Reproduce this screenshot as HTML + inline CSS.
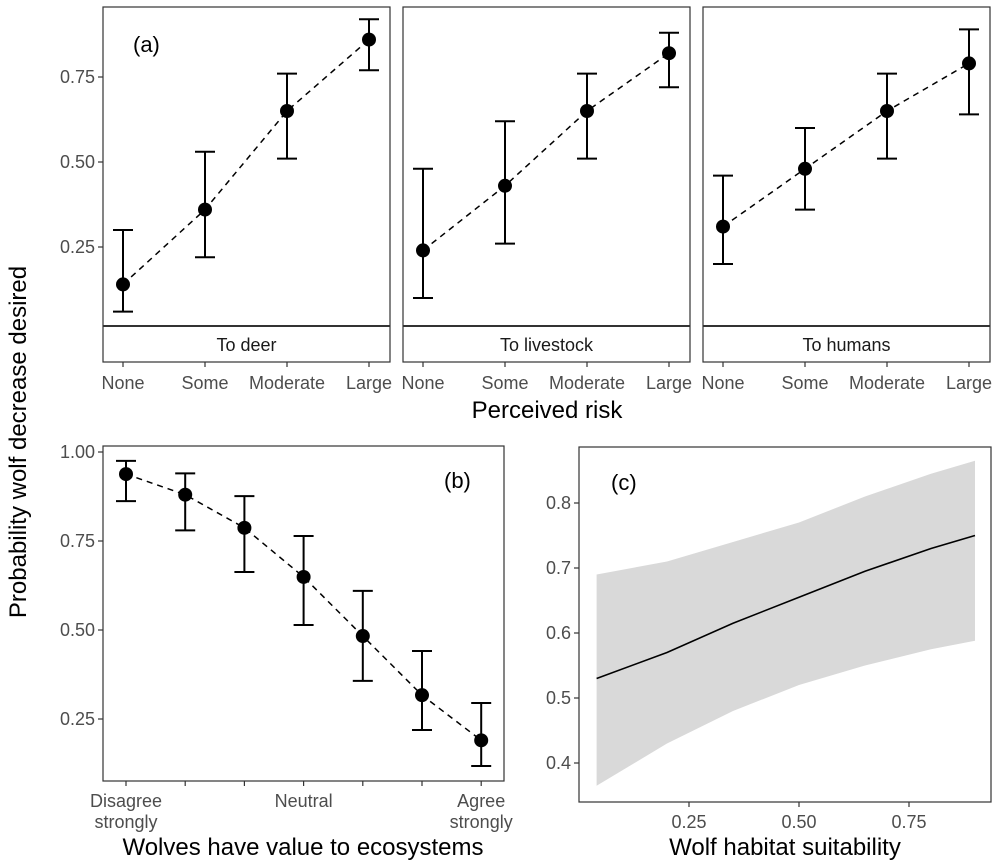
<!DOCTYPE html>
<html><head><meta charset="utf-8">
<style>
body{margin:0;background:#fff;}
svg{display:block;font-family:"Liberation Sans",sans-serif;}
.tk{fill:#4d4d4d;font-size:18px;}
.ttl{fill:#000;font-size:24px;}
</style></head>
<body>
<svg id="fig" width="1000" height="867" viewBox="0 0 1000 867"></svg>
<script>
// ---- Panel (a) data ----
const riskCats = ["None","Some","Moderate","Large"];
const facets = ["To deer","To livestock","To humans"];
const deerMean = [0.14,0.36,0.65,0.86];
const deerLo = [0.06,0.22,0.51,0.77];
const deerHi = [0.30,0.53,0.76,0.92];
const liveMean = [0.24,0.43,0.65,0.82];
const liveLo = [0.10,0.26,0.51,0.72];
const liveHi = [0.48,0.62,0.76,0.88];
const humMean = [0.31,0.48,0.65,0.79];
const humLo = [0.20,0.36,0.51,0.64];
const humHi = [0.46,0.60,0.76,0.89];
const aTicks = [0.25,0.50,0.75];
// ---- Panel (b) data ----
const valueCats = ["Disagree\nstrongly","","","Neutral","","","Agree\nstrongly"];
const valMean = [0.938,0.88,0.787,0.649,0.483,0.317,0.19];
const valLo = [0.862,0.78,0.663,0.514,0.357,0.219,0.118];
const valHi = [0.975,0.94,0.876,0.764,0.61,0.441,0.295];
const bTicks = [1.00,0.75,0.50,0.25];
// ---- Panel (c) data ----
const habX = [0.04,0.2,0.35,0.5,0.65,0.8,0.9];
const habFit = [0.53,0.57,0.615,0.655,0.695,0.73,0.75];
const habLo = [0.365,0.43,0.48,0.52,0.55,0.575,0.588];
const habHi = [0.69,0.71,0.74,0.77,0.81,0.845,0.865];
const cYTicks = [0.4,0.5,0.6,0.7,0.8];
const cXTicks = [0.25,0.50,0.75];

const NS="http://www.w3.org/2000/svg";
const svg=document.getElementById('fig');
function mk(tag,attrs,parent,text){const e=document.createElementNS(NS,tag);for(const k in attrs)e.setAttribute(k,attrs[k]);if(text!==undefined)e.textContent=text;(parent||svg).appendChild(e);return e;}
function fmt2(v){return v.toFixed(2);}

// Panel (a)
const ayA = v => 247-(v-0.25)*340;
const panelLeft=[103,403,703], PW=287;
const series=[[deerMean,deerLo,deerHi],[liveMean,liveLo,liveHi],[humMean,humLo,humHi]];
facets.forEach((f,fi)=>{
  const L=panelLeft[fi];
  const g=mk('g',{});
  
  
  const ax=i=>L+20+i*82;
  const [m,lo,hi]=series[fi];
  let d=m.map((v,i)=>(i?'L':'M')+ax(i)+','+ayA(v)).join(' ');
  const ln=mk('path',{d:d,fill:'none',stroke:'#000','stroke-width':1.5,'stroke-dasharray':'6,5'},g);
  
  
  m.forEach((v,i)=>{
    const x=ax(i);
    const eb=mk('path',{d:`M${x-10},${ayA(hi[i])}H${x+10}M${x},${ayA(hi[i])}V${ayA(lo[i])}M${x-10},${ayA(lo[i])}H${x+10}`,stroke:'#000','stroke-width':2,fill:'none'},g);
    
    
    const pt=mk('circle',{cx:x,cy:ayA(v),r:7,fill:'#000'},g);
    
    
    mk('line',{x1:x,x2:x,y1:362,y2:367,stroke:'#333','stroke-width':1.2},g);
    const tl=mk('text',{x:x,y:389,'text-anchor':'middle',class:'tk'},g,riskCats[i]);
    
    
  });
  mk('rect',{x:L,y:7,width:PW,height:355,fill:'none',stroke:'#333','stroke-width':1.2},g);
  mk('line',{x1:L,x2:L+PW,y1:326,y2:326,stroke:'#333','stroke-width':2},g);
  const st=mk('text',{x:L+PW/2,y:351,'text-anchor':'middle',fill:'#1a1a1a','font-size':18},g,f);
  
  
});
aTicks.forEach(t=>{
  mk('line',{x1:98,x2:103,y1:ayA(t),y2:ayA(t),stroke:'#333','stroke-width':1.2});
  const tx=mk('text',{x:95,y:ayA(t)+6,'text-anchor':'end',class:'tk'},svg,fmt2(t));
  
  
});
const la=mk('text',{x:133,y:52,'font-size':22},svg,'(a)');


const pr=mk('text',{x:547,y:418,'text-anchor':'middle',class:'ttl'},svg,'Perceived risk');



// Panel (b)
const byB = v => 719-(v-0.25)*356;
const bx = i => 126+i*59.2;
mk('rect',{x:103,y:446,width:401,height:335,fill:'none',stroke:'#333','stroke-width':1.2});
const bl=mk('path',{d:valMean.map((v,i)=>(i?'L':'M')+bx(i)+','+byB(v)).join(' '),fill:'none',stroke:'#000','stroke-width':1.5,'stroke-dasharray':'6,5'});


valMean.forEach((v,i)=>{
  const x=bx(i);
  const eb=mk('path',{d:`M${x-10},${byB(valHi[i])}H${x+10}M${x},${byB(valHi[i])}V${byB(valLo[i])}M${x-10},${byB(valLo[i])}H${x+10}`,stroke:'#000','stroke-width':2,fill:'none'});
  
  
  const pt=mk('circle',{cx:x,cy:byB(v),r:7,fill:'#000'});
  
  
  mk('line',{x1:x,x2:x,y1:781,y2:786,stroke:'#333','stroke-width':1.2});
  const lines=valueCats[i].split('\n');
  lines.forEach((s,k)=>{ if(!s)return;
    const tl=mk('text',{x:x,y:807+k*21,'text-anchor':'middle',class:'tk'},svg,s);
    
    
  });
});
bTicks.forEach(t=>{
  mk('line',{x1:98,x2:103,y1:byB(t),y2:byB(t),stroke:'#333','stroke-width':1.2});
  const tx=mk('text',{x:95,y:byB(t)+6,'text-anchor':'end',class:'tk'},svg,fmt2(t));
  
  
});
const lb=mk('text',{x:444,y:488,'font-size':22},svg,'(b)');


const bt=mk('text',{x:303,y:855,'text-anchor':'middle',class:'ttl'},svg,'Wolves have value to ecosystems');



// Panel (c)
const cx = v => 579+v*440;
const cy = v => 698-(v-0.5)*650;
let band=habX.map((x,i)=>(i?'L':'M')+cx(x)+','+cy(habHi[i])).join(' ');
for(let i=habX.length-1;i>=0;i--) band+=' L'+cx(habX[i])+','+cy(habLo[i]);
const bd=mk('path',{d:band+' Z',fill:'#d9d9d9'});


const fl=mk('path',{d:habX.map((x,i)=>(i?'L':'M')+cx(x)+','+cy(habFit[i])).join(' '),fill:'none',stroke:'#000','stroke-width':1.6});


mk('rect',{x:579,y:447,width:412,height:355,fill:'none',stroke:'#333','stroke-width':1.2});
cYTicks.forEach(t=>{
  mk('line',{x1:574,x2:579,y1:cy(t),y2:cy(t),stroke:'#333','stroke-width':1.2});
  const tx=mk('text',{x:571,y:cy(t)+6,'text-anchor':'end',class:'tk'},svg,t.toFixed(1));
  
  
});
cXTicks.forEach(t=>{
  mk('line',{x1:cx(t),x2:cx(t),y1:802,y2:807,stroke:'#333','stroke-width':1.2});
  const tx=mk('text',{x:cx(t),y:828,'text-anchor':'middle',class:'tk'},svg,fmt2(t));
  
  
});
const lc=mk('text',{x:611,y:490,'font-size':22},svg,'(c)');


const ct=mk('text',{x:785,y:855,'text-anchor':'middle',class:'ttl'},svg,'Wolf habitat suitability');



// Shared y title
const yt=mk('text',{x:0,y:0,'text-anchor':'middle',class:'ttl',transform:'translate(26,442) rotate(-90)'},svg,'Probability wolf decrease desired');


</script>
</body></html>
